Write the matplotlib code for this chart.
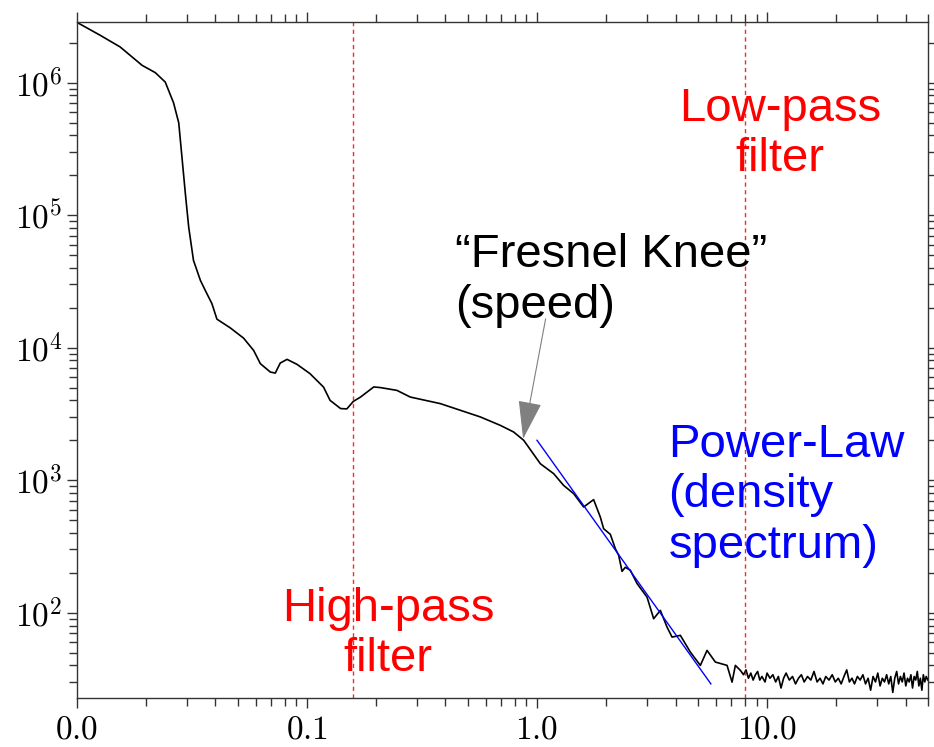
import matplotlib.pyplot as plt
from matplotlib.ticker import FixedLocator, FixedFormatter, LogLocator, NullFormatter

plt.rcParams['mathtext.fontset'] = 'cm'

# scintillation power spectrum (frequency in Hz, power in arbitrary units)
freq = [0.0100, 0.0126, 0.0154, 0.0192, 0.0219, 0.0242, 0.0263, 0.0277, 0.0286,
        0.0296, 0.0306, 0.0321, 0.0344, 0.0361, 0.0386, 0.0406, 0.0464, 0.0530,
        0.0586, 0.0627, 0.0693, 0.0728, 0.0765, 0.0819, 0.0905, 0.103, 0.118,
        0.126, 0.140, 0.149, 0.159, 0.171, 0.195, 0.208, 0.246, 0.281, 0.380,
        0.464, 0.567, 0.693, 0.791, 0.875, 1.034, 1.181, 1.305, 1.443, 1.595,
        1.762, 1.884, 1.948, 2.083, 2.190, 2.264, 2.342, 2.420, 2.545, 2.721,
        3.008, 3.214, 3.437, 3.674, 3.864, 4.198, 4.640, 5.129, 5.484, 5.960,
        6.701, 7.045, 7.282, 7.654,
        7.9, 8.1, 8.3, 8.5, 8.7, 8.9, 9.1, 9.3, 9.5, 9.8, 10.0, 10.3, 10.6,
        10.9, 11.2, 11.5, 11.8, 12.1, 12.5, 12.9, 13.3, 13.7, 14.1, 14.5, 15.0,
        15.5, 16.0, 16.5, 17.0, 17.5, 18.0, 18.6, 19.2, 19.8, 20.4, 21.0, 21.6,
        22.2, 22.8, 23.4, 24.0, 24.7, 25.4, 26.1, 26.8, 27.5, 28.2, 28.9, 29.6,
        30.3, 31.0, 31.7, 32.4, 33.1, 33.8, 34.5, 35.2, 35.9, 36.6, 37.3, 38.0,
        38.7, 39.4, 40.1, 40.8, 41.5, 42.2, 42.9, 43.6, 44.3, 45.0, 45.7, 46.4,
        47.1, 47.8, 48.5, 49.2, 50.0]
power = [2.85e6, 2.28e6, 1.86e6, 1.35e6, 1.19e6, 1.01e6, 7.04e5, 4.97e5, 2.75e5,
         1.45e5, 8.13e4, 4.56e4, 3.22e4, 2.71e4, 2.15e4, 1.64e4, 1.41e4, 1.18e4,
         9.54e3, 7.57e3, 6.54e3, 6.43e3, 7.65e3, 8.16e3, 7.48e3, 6.37e3, 5.04e3,
         4.00e3, 3.47e3, 3.45e3, 3.93e3, 4.24e3, 5.05e3, 5.00e3, 4.76e3, 4.24e3,
         3.78e3, 3.37e3, 3.00e3, 2.59e3, 2.31e3, 2.00e3, 1.33e3, 1.12e3, 913,
         791, 627, 713, 527, 430, 390, 304, 271, 205, 220, 209, 166,
         131, 90, 104, 77.9, 65.4, 67.4, 50.4, 40.0, 51.9, 42.4,
         40.0, 29.9, 40.0, 36.7,
         34, 37, 32, 35, 31, 34, 36, 31, 33, 30, 35, 32, 34,
         30, 33, 27, 32, 35, 31, 33, 29, 32, 34, 30, 33,
         31, 36, 30, 32, 29, 33, 31, 34, 30, 32, 29, 33,
         37, 30, 32, 29, 33, 31, 34, 29, 32, 26, 33, 30,
         35, 28, 32, 30, 34, 29, 33, 25, 32, 36, 29, 33,
         30, 35, 28, 32, 30, 34, 27, 33, 31, 36, 28, 32,
         26, 34, 30, 33, 31]

# power-law fit over the density spectrum
fit_freq = [1.0, 5.7]
fit_power = [2000, 29]

high_pass = 0.158
low_pass = 8.0
knee = (0.87, 2050)

x_ticks = [0.01, 0.1, 1.0, 10.0]
x_tick_labels = [r'$0.0$', r'$0.1$', r'$1.0$', r'$10.0$']
y_ticks = [1e2, 1e3, 1e4, 1e5, 1e6]
y_tick_labels = [r'$10^2$', r'$10^3$', r'$10^4$', r'$10^5$', r'$10^6$']

fig = plt.figure(figsize=(9.34, 7.47), dpi=100)
ax = fig.add_axes([0.0824, 0.0656, 0.911, 0.905])

ax.plot(freq, power, color='black', lw=1.2)
ax.plot(fit_freq, fit_power, color='blue', lw=1.0)
for f in (high_pass, low_pass):
    ax.axvline(f, color='red', lw=1.0, ls=(0, (3, 2.5)), alpha=0.85)

ax.set_xscale('log')
ax.set_yscale('log')
ax.set_xlim(0.01, 50)
ax.set_ylim(22.7, 2.87e6)

ax.xaxis.set_major_locator(FixedLocator(x_ticks))
ax.xaxis.set_major_formatter(FixedFormatter(x_tick_labels))
ax.xaxis.set_minor_locator(LogLocator(base=10, subs=range(2, 10), numticks=20))
ax.xaxis.set_minor_formatter(NullFormatter())
ax.yaxis.set_major_locator(FixedLocator(y_ticks))
ax.yaxis.set_major_formatter(FixedFormatter(y_tick_labels))
ax.yaxis.set_minor_locator(LogLocator(base=10, subs=range(2, 10), numticks=20))
ax.yaxis.set_minor_formatter(NullFormatter())

ax.tick_params(which='both', direction='out', top=True, right=True,
               color='#333333', width=1.0, labelsize=24)
ax.tick_params(which='major', length=7.5, pad=3)
ax.tick_params(which='minor', length=6)
for s in ax.spines.values():
    s.set_color('#333333')
    s.set_linewidth(1.0)

font = dict(family='Liberation Sans', fontsize=34)
ax.text(11.4, 4.1e5, 'Low-pass\nfilter', color='red', ha='center', va='center',
        multialignment='center', **font)
ax.text(0.2257, 69, 'High-pass\nfilter', color='red', ha='center', va='center',
        multialignment='center', **font)
ax.text(0.4414, 3.2e4, '\u201cFresnel Knee\u201d\n(speed)', color='black',
        ha='left', va='center', **font)
ax.text(3.72, 767, 'Power-Law\n(density\nspectrum)', color='blue',
        ha='left', va='center', **font)

ax.annotate('', xy=knee, xytext=(1.09, 1.65e4),
            arrowprops=dict(arrowstyle='-|>,head_length=2.45,head_width=0.75',
                            mutation_scale=10, color='gray', lw=0.8,
                            shrinkA=0, shrinkB=0))

fig.savefig('out.png', dpi=100)
